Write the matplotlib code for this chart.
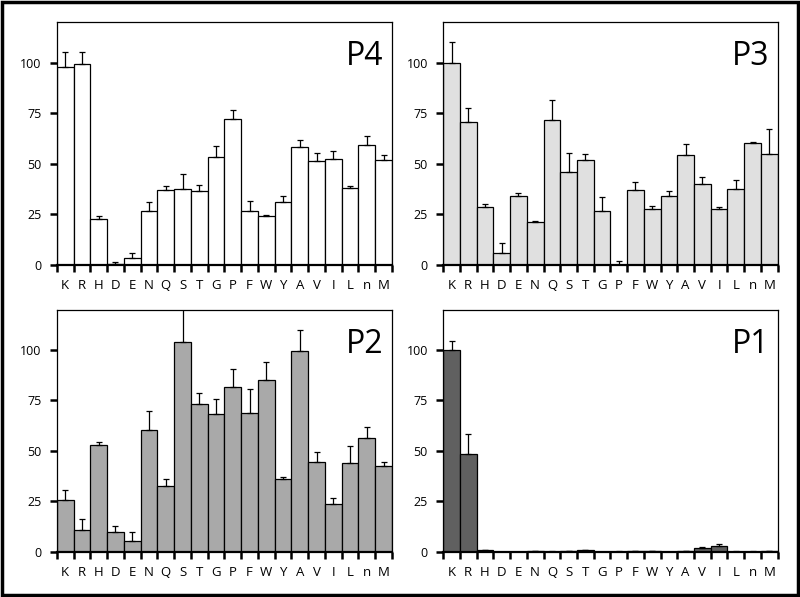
import matplotlib
matplotlib.use("Agg")
import matplotlib.pyplot as plt
import numpy as np
from matplotlib.patches import Rectangle

plt.rcParams["font.family"] = ["Open Sans", "DejaVu Sans"]

residues = ["K", "R", "H", "D", "E", "N", "Q", "S", "T", "G",
            "P", "F", "W", "Y", "A", "V", "I", "L", "n", "M"]

# bar heights and top of the error bar
p4_val = [98.0, 99.3, 22.7, 0.3, 3.3, 26.6, 37.3, 37.6, 36.5, 53.5,
          71.9, 26.8, 24.3, 31.0, 58.3, 51.2, 52.5, 38.3, 59.1, 51.9]
p4_top = [105.1, 105.1, 24.1, 1.3, 6.2, 31.2, 39.2, 45.2, 39.6, 58.8,
          76.5, 31.7, 24.6, 34.0, 61.6, 55.3, 56.5, 39.1, 63.5, 54.5]

p3_val = [100.0, 70.8, 28.8, 6.0, 34.0, 21.1, 71.4, 46.1, 52.0, 26.6,
          0.0, 37.3, 27.9, 34.2, 54.2, 40.0, 27.6, 37.6, 60.5, 54.7]
p3_top = [110.3, 77.6, 30.2, 10.9, 35.8, 21.6, 81.4, 55.2, 54.7, 33.8,
          2.0, 41.2, 29.1, 36.8, 60.0, 43.3, 28.9, 41.8, 60.6, 67.0]

p2_val = [25.9, 10.8, 53.0, 9.8, 5.5, 60.5, 32.6, 104.1, 73.1, 68.2,
          81.9, 68.8, 85.2, 35.9, 99.5, 44.5, 24.0, 44.0, 56.6, 42.7]
p2_top = [30.5, 16.2, 54.3, 12.9, 9.8, 69.7, 36.2, 124.0, 78.6, 75.7,
          90.4, 80.6, 94.3, 36.9, 109.8, 49.6, 26.8, 52.5, 62.0, 44.4]

p1_val = [99.8, 48.4, 1.0, -0.6, -0.5, 0.5, 0.2, 0.5, 0.8, 0.0,
          0.2, 0.5, 0.5, 0.1, 0.5, 2.0, 3.2, 0.2, 0.2, 0.5]
p1_top = [104.4, 58.6, 1.2, -0.6, -0.5, 0.7, 0.3, 0.7, 1.0, 0.0,
          0.3, 0.7, 0.7, 0.1, 0.7, 2.5, 3.8, 0.3, 0.3, 0.7]

panels = [
    ("P4", p4_val, p4_top, "white", [0.071, 0.556, 0.419, 0.407]),
    ("P3", p3_val, p3_top, "#e0e0e0", [0.554, 0.556, 0.418, 0.407]),
    ("P2", p2_val, p2_top, "#a9a9a9", [0.071, 0.0754, 0.419, 0.406]),
    ("P1", p1_val, p1_top, "#606060", [0.554, 0.0754, 0.418, 0.406]),
]

fig = plt.figure(figsize=(8, 5.97), dpi=100)

x = np.arange(len(residues))
for name, vals, tops, color, rect in panels:
    ax = fig.add_axes(rect)
    vals = np.array(vals)
    tops = np.array(tops)
    ax.bar(x, vals, width=1.0, color=color, edgecolor="black", linewidth=0.9, zorder=2)
    up = np.clip(tops - vals, 0, None)
    ax.errorbar(x, vals, yerr=[np.zeros_like(up), up], fmt="none",
                ecolor="black", elinewidth=0.9, capsize=2.5, capthick=0.9,
                zorder=3, clip_on=True)
    ax.set_xlim(-0.5, len(residues) - 0.5)
    ax.set_ylim(0, 120)
    ax.set_yticks([0, 25, 50, 75, 100])
    ax.tick_params(axis="y", direction="out", length=5, width=1.8, pad=6, labelsize=9)
    # tick marks at the bar boundaries, labels at the bar centres
    ax.set_xticks(np.arange(-0.5, len(residues), 1.0))
    ax.set_xticklabels([])
    ax.set_xticks(x, minor=True)
    ax.set_xticklabels(residues, minor=True)
    ax.tick_params(axis="x", which="major", direction="out", length=5, width=1.8)
    ax.tick_params(axis="x", which="minor", length=0, pad=10, labelsize=9.5)
    for side in ["top", "right", "left"]:
        ax.spines[side].set_linewidth(0.9)
    ax.spines["bottom"].set_linewidth(1.6)
    ax.text(0.975, 0.925, name, transform=ax.transAxes, ha="right", va="top",
            fontsize=23)

# black frame around the whole figure
fig.patches.append(Rectangle((0.002, 0.003), 0.996, 0.994, transform=fig.transFigure,
                             fill=False, edgecolor="black", linewidth=2.5))

fig.savefig("out.png", dpi=100)
